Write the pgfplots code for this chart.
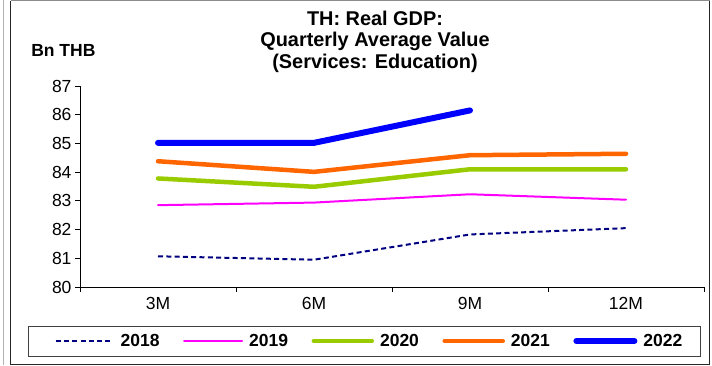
\documentclass[border=0pt]{standalone}
\usepackage{fontspec}
\setmainfont{Liberation Sans}
\usepackage{pgfplots}
\pgfplotsset{compat=1.18}
\definecolor{c18}{HTML}{000080}
\definecolor{c19}{HTML}{FF00FF}
\definecolor{c20}{HTML}{99CC00}
\definecolor{c21}{HTML}{FF6600}
\definecolor{c22}{HTML}{0000FF}
\begin{document}
\begin{tikzpicture}[x=1pt,y=1pt]
\useasboundingbox (0,0) rectangle (712,365);
\draw[black!30, line width=1pt] (3,0) -- (3,365);
\draw[black!45, line width=1pt] (10.5,364) -- (709.5,364);
\draw[black!85, line width=1pt] (10.5,364) -- (10.5,0.5) -- (709.5,0.5) -- (709.5,364);
\draw[black!75, line width=0.8pt] (28,9) rectangle (700,39);
\node[align=center, font=\bfseries\fontsize{19.9}{21.5}\selectfont] at (375,323.5) {TH: Real GDP:\\Quarterly Average Value\\(Services: Education)};
\node[font=\bfseries\fontsize{17.5}{20}\selectfont] at (63.4,314.3) {Bn THB};
\begin{axis}[
  at={(80pt,78pt)}, anchor=south west,
  scale only axis, width=624pt, height=201pt,
  xmin=-0.5, xmax=3.5, ymin=80, ymax=87,
  axis x line*=bottom, axis y line*=left,
  xtick={0,1,2,3}, xticklabels={3M,6M,9M,12M},
  major x tick style={draw=none},
  minor xtick={-0.5,0.5,1.5,2.5,3.5},
  ytick={80,81,...,87},
  tick align=outside,
  major tick length=5pt, minor tick length=5pt,
  tick style={black, line width=0.8pt},
  axis line style={black, line width=0.8pt},
  ticklabel style={font=\fontsize{17.5}{20}\selectfont},
  xticklabel style={yshift=-2pt},
  /pgf/number format/assume math mode=true,
  legend columns=5,
  legend style={at={(-0.0409,-0.2687)}, anchor=west, draw=none, fill=none,
    inner sep=0pt, font=\bfseries\fontsize{17.5}{20}\selectfont,
    nodes={inner sep=0pt},
    /tikz/every odd column/.append style={column sep=6pt},
    /tikz/every even column/.append style={column sep=23.5pt}},
  legend image code/.code={\draw[#1] (0pt,0pt) -- (58pt,0pt);},
  every axis plot/.append style={line cap=round, line join=round},
]
\addplot[c18, line width=2pt, dash pattern=on 5pt off 3.3pt, line cap=butt] coordinates {(0,81.07) (1,80.95) (2,81.83) (3,82.05)};
\addlegendentry{2018}
\addplot[c19, line width=2pt] coordinates {(0,82.85) (1,82.94) (2,83.23) (3,83.04)};
\addlegendentry{2019}
\addplot[c20, line width=4.5pt] coordinates {(0,83.78) (1,83.49) (2,84.10) (3,84.10)};
\addlegendentry{2020}
\addplot[c21, line width=4.5pt] coordinates {(0,84.38) (1,84.01) (2,84.59) (3,84.64)};
\addlegendentry{2021}
\addplot[c22, line width=6pt] coordinates {(0,85.02) (1,85.02) (2,86.15)};
\addlegendentry{2022}
\end{axis}
\end{tikzpicture}
\end{document}
